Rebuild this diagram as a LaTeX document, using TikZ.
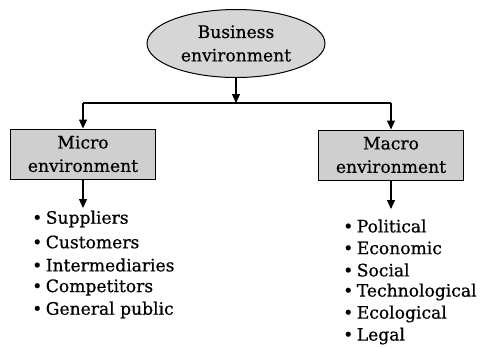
\documentclass[tikz,border=0pt]{standalone}
\usepackage{fontspec}
\setmainfont{DejaVu Serif}[FakeBold=0.6]
\usetikzlibrary{shapes.geometric,arrows.meta}
\newcommand{\blt}{\textbullet\hspace{3.5bp}}
\begin{document}
\begin{tikzpicture}[x=1bp,y=-1bp,
  txt/.style={font=\fontsize{17.2}{23.5}\selectfont, align=center},
  boxstyle/.style={txt, draw=black, line width=1bp, fill=gray!38, minimum width=145bp, minimum height=50bp, inner sep=0pt},
  ellstyle/.style={txt, ellipse, draw=black, line width=1bp, fill=gray!32, minimum width=178bp, minimum height=68bp, inner sep=0pt},
  conn/.style={line width=1.1bp, -{Triangle[length=9bp,width=8bp]}},
  plainline/.style={line width=1.1bp},
  item/.style={font=\fontsize{17.2}{18}\selectfont, anchor=west, inner sep=0pt}
]
\useasboundingbox (0,0) rectangle (483,347);
\node[ellstyle] (biz) at (236,43.5) {Business\\environment};
\node[boxstyle] (micro) at (83,154) {Micro\\environment};
\node[boxstyle] (macro) at (391,155) {Macro\\environment};
\coordinate (mid) at (236,103);
\coordinate (jl) at (83,103);
\coordinate (jr) at (391,103);
\draw[conn] (biz.south) -- (mid);
\draw[plainline] (jl) -- (jr);
\draw[conn] (jl) -- (micro.north);
\draw[conn] (jr) -- (macro.north);
\coordinate (ml) at (83,208);
\coordinate (mr) at (391,209);
\draw[conn] (micro.south) -- (ml);
\draw[conn] (macro.south) -- (mr);
\node[item] (s1) at (32,219) {\blt Suppliers};
\node[item] (s2) at (32,242) {\blt Customers};
\node[item] (s3) at (32,265) {\blt Intermediaries};
\node[item] (s4) at (32,287.5) {\blt Competitors};
\node[item] (s5) at (32,310) {\blt General public};
\node[item] (p1) at (343,226) {\blt Political};
\node[item] (p2) at (343,248) {\blt Economic};
\node[item] (p3) at (343,270) {\blt Social};
\node[item] (p4) at (343,292) {\blt Technological};
\node[item] (p5) at (343,314) {\blt Ecological};
\node[item] (p6) at (343,336) {\blt Legal};
\end{tikzpicture}
\end{document}
